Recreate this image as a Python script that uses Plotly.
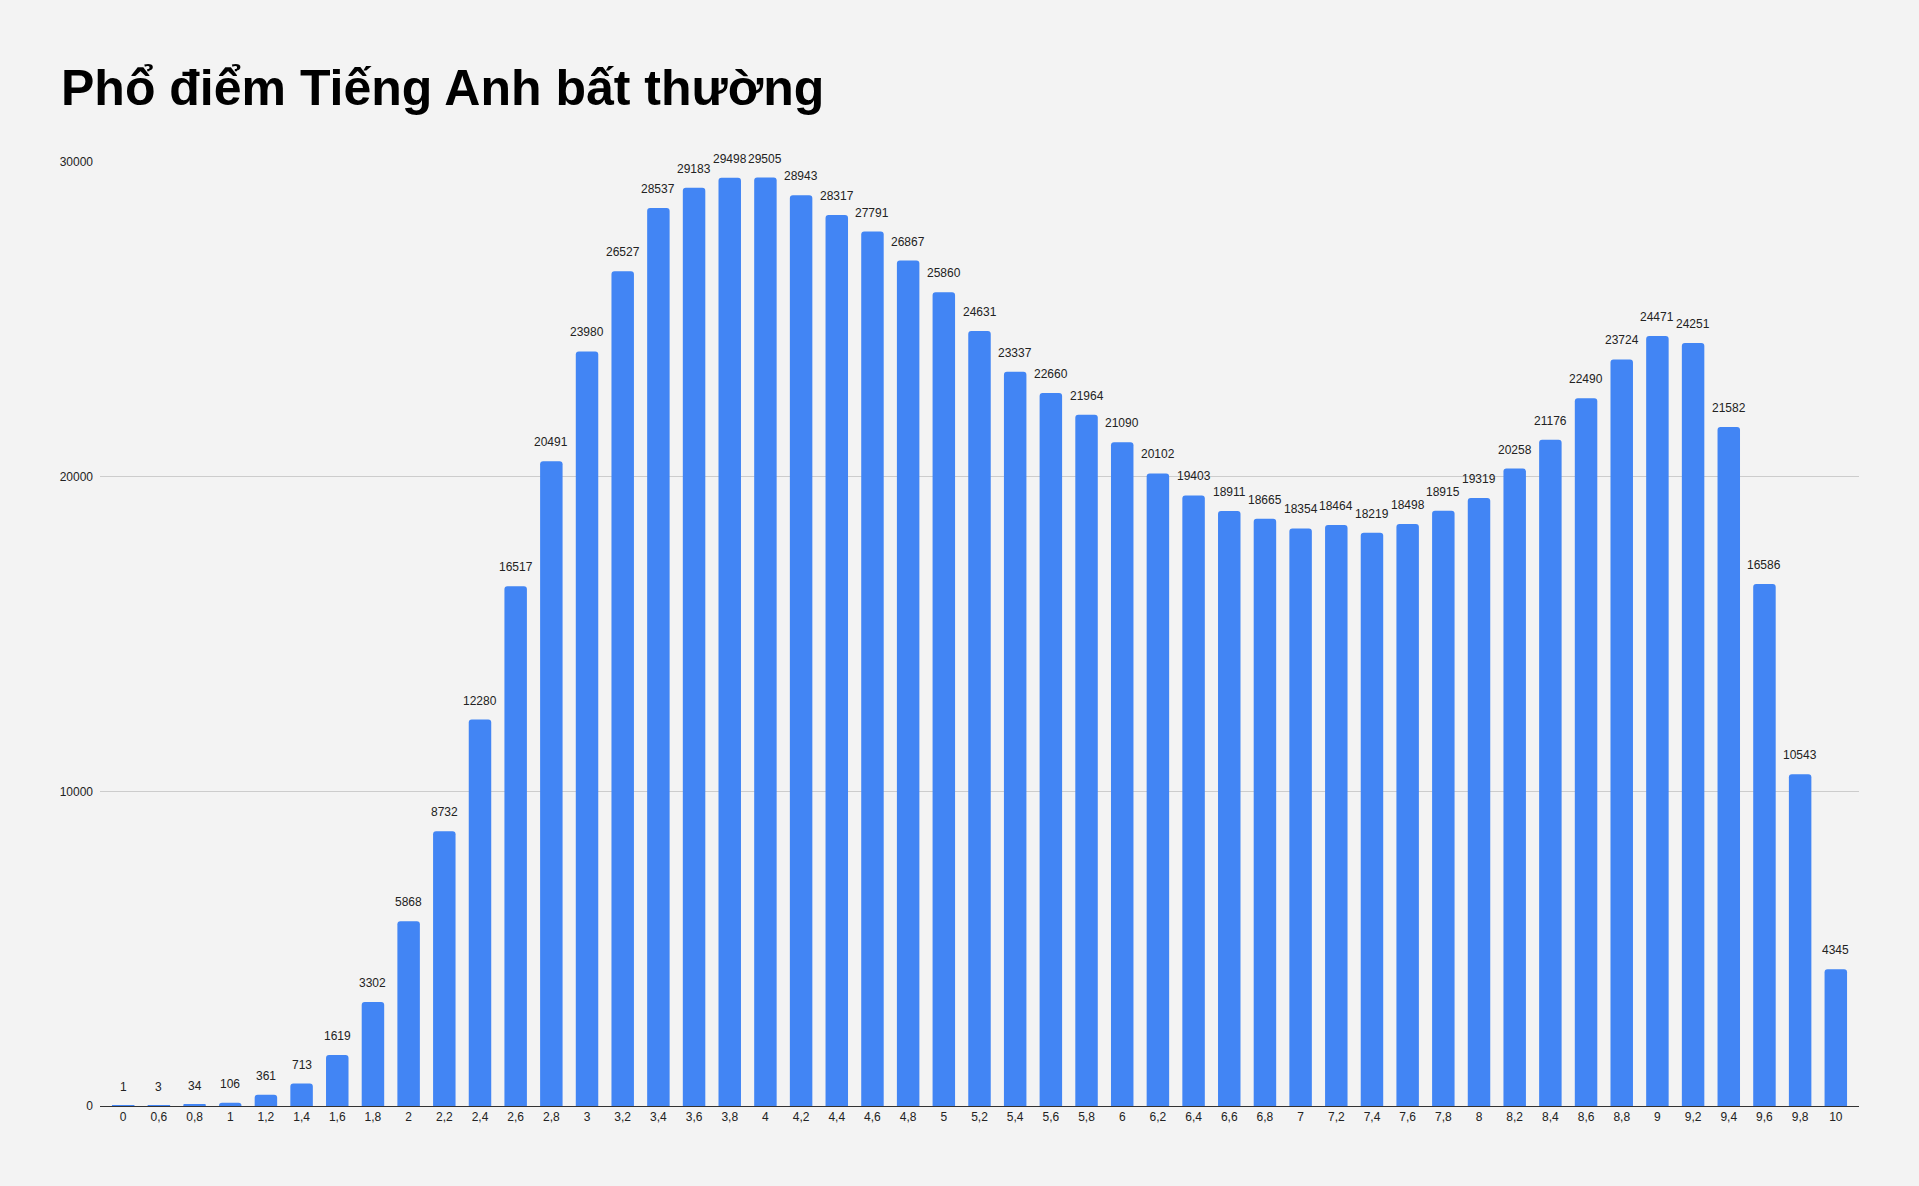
import plotly.graph_objects as go

scores = ["0", "0,6", "0,8", "1", "1,2", "1,4", "1,6", "1,8", "2", "2,2", "2,4", "2,6", "2,8",
          "3", "3,2", "3,4", "3,6", "3,8", "4", "4,2", "4,4", "4,6", "4,8", "5", "5,2", "5,4",
          "5,6", "5,8", "6", "6,2", "6,4", "6,6", "6,8", "7", "7,2", "7,4", "7,6", "7,8", "8",
          "8,2", "8,4", "8,6", "8,8", "9", "9,2", "9,4", "9,6", "9,8", "10"]
counts = [1, 3, 34, 106, 361, 713, 1619, 3302, 5868, 8732, 12280, 16517, 20491,
          23980, 26527, 28537, 29183, 29498, 29505, 28943, 28317, 27791, 26867, 25860, 24631, 23337,
          22660, 21964, 21090, 20102, 19403, 18911, 18665, 18354, 18464, 18219, 18498, 18915, 19319,
          20258, 21176, 22490, 23724, 24471, 24251, 21582, 16586, 10543, 4345]
y_ticks = [0, 10000, 20000, 30000]

bg = "#f3f3f3"

fig = go.Figure(go.Bar(
    x=scores, y=counts,
    marker=dict(color="#4285f4", line=dict(width=0)),
    hoverinfo="x+y",
))

# value labels sit a little above each bar, like the sheets chart
# (x given as category index: labels like "1" would otherwise be read as an index)
for i, c in enumerate(counts):
    fig.add_annotation(x=i, y=c, text=str(c), showarrow=False,
                       yanchor="middle", yshift=19,
                       font=dict(family="Liberation Sans, Arial", size=12, color="#222222"))

fig.update_layout(
    width=1919, height=1186,
    paper_bgcolor=bg, plot_bgcolor=bg,
    margin=dict(l=100, r=60, t=162, b=80),
    bargap=0.37, barcornerradius=3,
    showlegend=False,
    font=dict(family="Liberation Sans, Arial", size=12, color="#222222"),
    title=dict(text="<b>Phổ điểm Tiếng Anh bất thường</b>",
               xref="container", x=61 / 1919, xanchor="left",
               yref="container", y=1 - 87 / 1186, yanchor="middle",
               font=dict(family="Liberation Sans, Arial", size=50, color="#000000")),
    xaxis=dict(type="category", range=[-0.65, 48.65], showgrid=False,
               showline=True, linecolor="#333333", linewidth=1,
               ticks="", tickfont=dict(size=12, color="#222222")),
    yaxis=dict(range=[0, 30000], tickvals=y_ticks, tickformat="d", showgrid=True,
               gridcolor="#cccccc", gridwidth=1, zeroline=False,
               showline=False, ticks="", ticklabelstandoff=6,
               tickfont=dict(size=12, color="#222222")),
)

fig.write_html("out.html", config={"displayModeBar": False},
               post_script="document.body.style.margin='0';")
